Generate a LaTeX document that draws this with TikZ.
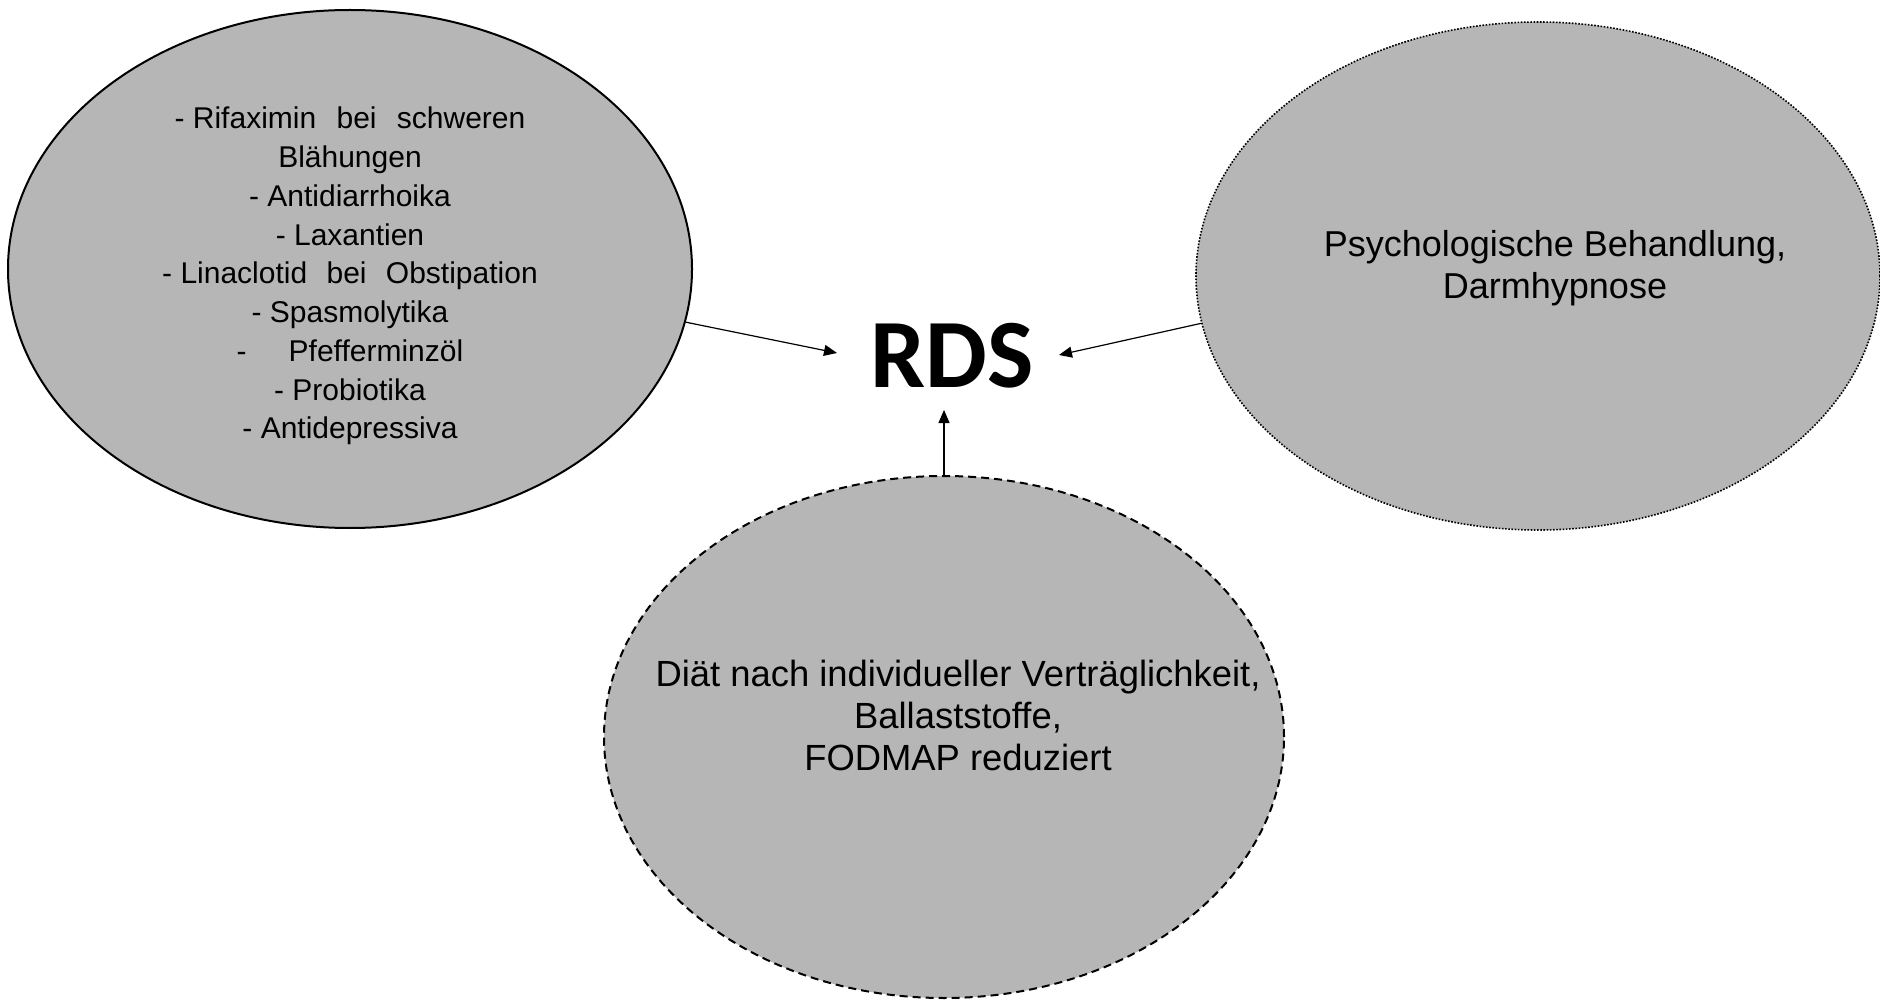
\documentclass[tikz,border=0pt]{standalone}
\usepackage{fontspec}
\setmainfont{Liberation Sans}
\newfontfamily\rdsfont{Carlito}
\usetikzlibrary{shapes.geometric,arrows.meta}
\definecolor{ellfill}{RGB}{182,182,182}
\begin{document}
\begin{tikzpicture}[x=1pt,y=-1pt,
  blob/.style={ellipse,fill=ellfill,inner sep=0pt,draw=black},
  lbl/.style={align=center,inner sep=0pt,text=black},
  conn/.style={-{Triangle[length=13pt,width=11pt]},line width=1.2pt,black}]
\useasboundingbox (0,0) rectangle (1880,1000);
\fill[white] (0,0) rectangle (1880,1000);
% ellipses
\node[blob,line width=2pt,minimum width=684pt,minimum height=518pt] (L) at (350,269) {};
\node[blob,line width=1.6pt,dash pattern=on 1.6pt off 1.6pt,minimum width=684pt,minimum height=508pt] (R) at (1538,276) {};
\node[blob,line width=2pt,dash pattern=on 8pt off 5pt,minimum width=680pt,minimum height=522pt] (B) at (944,737) {};
% texts
\node[lbl,font=\fontsize{30}{38.75}\selectfont] (Ltext) at (350,276)
  {- Rifaximin\hspace{12pt} bei\hspace{12pt} schweren\\
   Blähungen\\
   - Antidiarrhoika\\
   - Laxantien\\
   - Linaclotid\hspace{11pt} bei\hspace{11pt} Obstipation\\
   - Spasmolytika\\
   -\hspace{42pt}Pfefferminzöl\\
   - Probiotika\\
   - Antidepressiva};
\node[lbl,font=\fontsize{36}{42}\selectfont] (Rtext) at (1555,268)
  {Psychologische Behandlung,\\ Darmhypnose};
\node[lbl,font=\fontsize{36.4}{42}\selectfont] (Btext) at (958,715)
  {Diät nach individueller Verträglichkeit,\\ Ballaststoffe,\\ FODMAP reduziert};
% centre
\node[inner sep=0pt,anchor=base,font=\rdsfont\bfseries\fontsize{98}{98}\selectfont] (RDS) at (952,387) {RDS};
% connectors
\coordinate (tipL) at (837,353);
\coordinate (tipR) at (1059,355);
\coordinate (tipB) at (944,410);
\draw[conn] (L.351.1) -- (tipL);
\draw[conn] (R.188) -- (tipR);
\draw[conn] (B.north) -- (tipB);
\end{tikzpicture}
\end{document}
